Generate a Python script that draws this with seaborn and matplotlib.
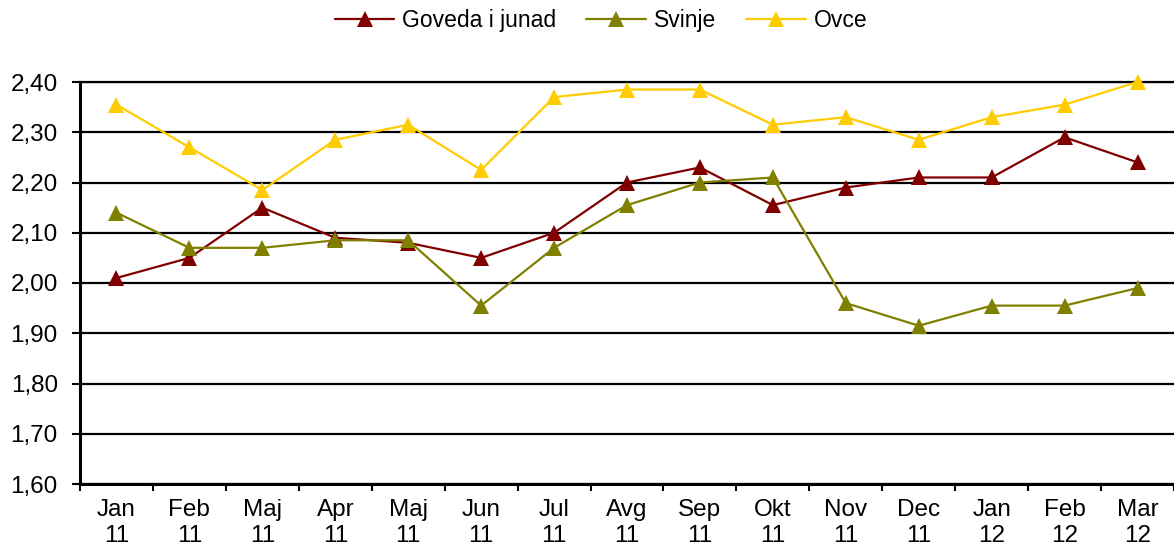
import numpy as np
import pandas as pd
from matplotlib import pyplot as plt
from matplotlib.ticker import FixedLocator, FuncFormatter
import seaborn as sns

months = ['Jan', 'Feb', 'Maj', 'Apr', 'Maj', 'Jun', 'Jul', 'Avg', 'Sep', 'Okt',
          'Nov', 'Dec', 'Jan', 'Feb', 'Mar']
years = ['11'] * 12 + ['12'] * 3

goveda = [2.01, 2.05, 2.15, 2.09, 2.08, 2.05, 2.10, 2.20, 2.23, 2.155,
          2.19, 2.21, 2.21, 2.29, 2.24]
svinje = [2.14, 2.07, 2.07, 2.085, 2.085, 1.955, 2.07, 2.155, 2.20, 2.21,
          1.96, 1.915, 1.955, 1.955, 1.99]
ovce = [2.355, 2.27, 2.185, 2.285, 2.315, 2.225, 2.37, 2.385, 2.385, 2.315,
        2.33, 2.285, 2.33, 2.355, 2.40]

series_names = ['Goveda i junad', 'Svinje', 'Ovce']
colors = ['#800000', '#808000', '#FFCC00']

idx = np.arange(len(months))
df = pd.concat([
    pd.DataFrame({'idx': idx, 'value': vals, 'series': name})
    for name, vals in zip(series_names, [goveda, svinje, ovce])
])

sns.set_style('white')
plt.rcParams['font.family'] = ['Liberation Sans', 'DejaVu Sans']
plt.rcParams['text.color'] = 'black'
plt.rcParams['xtick.color'] = 'black'
plt.rcParams['ytick.color'] = 'black'

fig = plt.figure(figsize=(11.74, 5.48), dpi=100)
ax = fig.add_axes([80 / 1174, 64 / 548, 1094 / 1174, 402 / 548])

sns.lineplot(data=df, x='idx', y='value', hue='series', style='series',
             palette=colors, markers=['^', '^', '^'], dashes=False,
             markersize=12, markeredgewidth=0, linewidth=1.6,
             ax=ax, clip_on=False, zorder=3)

ax.set_xlim(-0.5, len(months) - 0.5)
ax.set_ylim(1.6, 2.4)
ax.set_yticks(np.arange(1.6, 2.41, 0.1))
ax.yaxis.set_major_formatter(FuncFormatter(lambda v, p: f'{v:.2f}'.replace('.', ',')))
ax.set_xticks(idx)
ax.set_xticklabels([f'{m}\n{y}' for m, y in zip(months, years)], linespacing=1.2)
ax.xaxis.set_minor_locator(FixedLocator(np.arange(-0.5, len(months), 1.0)))
ax.tick_params(axis='x', which='major', length=0, pad=11, labelsize=17.5,
               labelcolor='black')
ax.tick_params(axis='x', which='minor', length=5, width=1.5, direction='out',
               bottom=True, color='black')
ax.tick_params(axis='y', length=6, width=1.5, direction='out', left=True,
               color='black', labelcolor='black', labelsize=17.5, pad=10)
ax.grid(axis='y', color='black', linewidth=1.6)
ax.set_axisbelow(True)
ax.set_xlabel('')
ax.set_ylabel('')

for side in ['left', 'bottom']:
    ax.spines[side].set_color('black')
    ax.spines[side].set_linewidth(2.2)
ax.spines['top'].set_color('black')
ax.spines['top'].set_linewidth(1.6)
ax.spines['right'].set_visible(False)

handles, labels = ax.get_legend_handles_labels()
ax.get_legend().remove()
fig.legend(handles, labels, loc='center', bbox_to_anchor=(0.512, 0.962),
           ncol=3, frameon=False, fontsize=16.5, handlelength=2.6,
           columnspacing=1.3, handletextpad=0.35, labelcolor='black')

fig.savefig('out.png', dpi=100)
